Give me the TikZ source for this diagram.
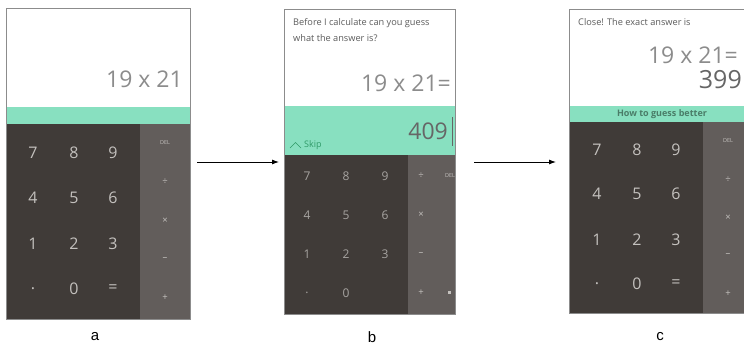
\documentclass[tikz,border=0pt]{standalone}
\usepackage{fontspec}
\setmainfont{Open Sans}
\newfontfamily\labfont{Liberation Sans}
\usetikzlibrary{arrows.meta}
\definecolor{mint}{HTML}{88E0C0}
\definecolor{padbg}{HTML}{403B38}
\definecolor{opbg}{HTML}{625D5B}
\definecolor{keytxt}{HTML}{C4C1BE}
\definecolor{disptxt}{HTML}{8C8C8C}
\definecolor{frame}{HTML}{8C8C8C}
\definecolor{skipgreen}{HTML}{2F9A68}
\definecolor{hintgreen}{HTML}{4A7D68}
\definecolor{msgtxt}{HTML}{5C5C5C}
\definecolor{darktxt}{HTML}{666666}
\tikzset{
  screen/.style={draw=frame, line width=0.8pt, fill=white},
  key/.style={text=keytxt, font=\fontsize{16}{16}\selectfont, inner sep=0pt},
  smallkey/.style={text=keytxt!85!black, font=\fontsize{12}{12}\selectfont, inner sep=0pt},
  opkey/.style={text=keytxt, font=\fontsize{9.5}{9.5}\selectfont, inner sep=0pt},
  delkey/.style={text=keytxt, font=\fontsize{5.5}{5.5}\selectfont, inner sep=0pt},
  expr/.style={text=disptxt, font=\fontsize{23}{23}\selectfont, inner sep=0pt, anchor=east},
  msg/.style={text=msgtxt, font=\fontsize{9.2}{9.2}\selectfont, inner sep=0pt, anchor=west},
  sublabel/.style={font=\labfont\fontsize{15}{15}\selectfont, inner sep=0pt},
  flow/.style={line width=0.9pt, -{Latex[length=7pt,width=5pt]}}
}
\begin{document}
\begin{tikzpicture}[x=1pt,y=-1pt]
\useasboundingbox (0,0) rectangle (744,347);
\clip (0,0) rectangle (744,347);
% ---------- panel a ----------
\draw[screen] (6,8) rectangle (190,319);
\fill[mint] (6,107) rectangle (190,124);
\fill[padbg] (6,124) rectangle (140,319);
\fill[opbg] (140,124) rectangle (190,319);
\draw[frame, line width=0.8pt] (6,8) rectangle (190,319);
\node[expr] (aexpr) at (183,79) {19 x 21};
\foreach \t/\x/\y [count=\i] in {7/33/153,8/74/153,9/113/153,4/33/198,5/74/198,6/113/198,1/33/244,2/74/244,3/113/244,./33/289,0/74/289,=/113/289}
  \node[key] (ak\i) at (\x,\y) {\t};
\node[delkey] (adel) at (165,143) {DEL};
\node[opkey] (adiv) at (165,182) {÷};
\node[opkey] (amul) at (165,221) {×};
\node[opkey] (amin) at (165,259) {–};
\node[opkey] (aplus) at (165,298) {+};
\node[sublabel] (la) at (95,337) {a};
% ---------- panel b ----------
\draw[screen] (284,9) rectangle (455,314);
\fill[mint] (284,106) rectangle (455,155);
\fill[padbg] (284,155) rectangle (408,314);
\fill[opbg] (408,155) rectangle (455,314);
\draw[frame, line width=0.8pt] (284,9) rectangle (455,314);
\node[msg] (bq1) at (293,23) {Before I calculate can you guess};
\node[msg] (bq2) at (293,38) {what the answer is?};
\node[expr] (bexpr) at (451,83) {19 x 21=};
\node[expr, text=darktxt, font=\fontsize{23}{23}\selectfont] (bguess) at (448,131) {409};
\draw[darktxt, line width=0.9pt] (452,117) -- (452,146);
\draw[skipgreen, line width=0.6pt] (290,148) -- (295.5,142.5) -- (301,148);
\node[msg, text=skipgreen, font=\fontsize{9}{9}\selectfont] (bskip) at (304,145) {Skip};
\foreach \t/\x/\y [count=\i] in {7/307/176,8/346/176,9/385/176,4/307/215,5/346/215,6/385/215,1/307/254,2/346/254,3/385/254,./307/293,0/346/293}
  \node[smallkey] (bk\i) at (\x,\y) {\t};
\node[opkey] (bdiv) at (421,176) {÷};
\node[delkey] (bdel) at (450,176) {DEL};
\node[opkey] (bmul) at (421,215) {×};
\node[opkey] (bmin) at (421,254) {–};
\node[opkey] (bplus) at (421,293) {+};
\node[fill=keytxt, minimum size=3pt, inner sep=0pt] (beq) at (449,293) {};
\node[sublabel] (lb) at (372,337) {b};
% ---------- panel c ----------
\fill[white] (569,9) rectangle (760,313);
\fill[mint] (569,106) rectangle (760,122);
\fill[padbg] (569,122) rectangle (703,313);
\fill[opbg] (703,122) rectangle (760,313);
\draw[frame, line width=0.8pt] (760,9) -- (569,9) -- (569,313) -- (760,313);
\node[msg] (cmsg) at (578,22) {Close! The exact answer is};
\node[expr] (cexpr) at (738,55) {19 x 21=};
\node[expr, text=darktxt, font=\fontsize{25}{25}\selectfont] (cans) at (742,80) {399};
\node[text=hintgreen, font=\bfseries\fontsize{9}{9}\selectfont, inner sep=0pt] (chint) at (662,114) {How to guess better};
\foreach \t/\x/\y [count=\i] in {7/597/150,8/637/150,9/676/150,4/597/194,5/637/194,6/676/194,1/597/240,2/637/240,3/676/240,./597/284,0/637/284,=/676/284}
  \node[key] (ck\i) at (\x,\y) {\t};
\node[delkey] (cdel) at (728,141) {DEL};
\node[opkey] (cdiv) at (728,180) {÷};
\node[opkey] (cmul) at (728,218) {×};
\node[opkey] (cmin) at (728,255) {–};
\node[opkey] (cplus) at (728,294) {+};
\node[sublabel] (lc) at (660,337) {c};
% ---------- arrows ----------
\coordinate (a1s) at (197,162);
\coordinate (a1e) at (279,162);
\coordinate (a2s) at (474,162);
\coordinate (a2e) at (556,162);
\draw[flow] (a1s) -- (a1e);
\draw[flow] (a2s) -- (a2e);
\end{tikzpicture}
\end{document}
